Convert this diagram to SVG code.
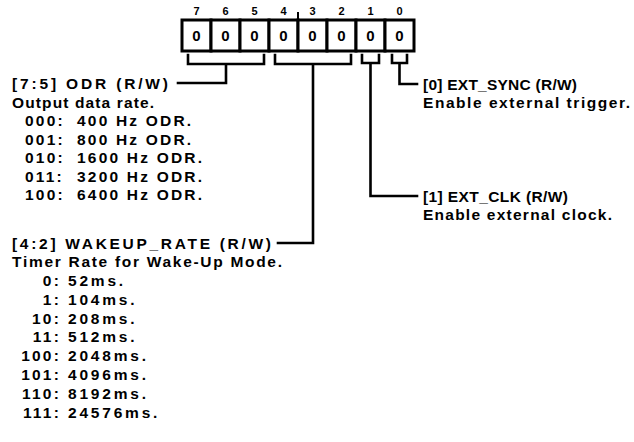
<svg xmlns="http://www.w3.org/2000/svg" width="634" height="442" viewBox="0 0 634 442">
<style>
text{font-family:"Liberation Sans",Arial,sans-serif;font-weight:bold;fill:#000}
.t{font-size:15.5px}
.l{font-size:15.5px;letter-spacing:2.2px}
.v{font-size:15.5px;letter-spacing:2.8px}
.k{font-size:15.5px;letter-spacing:2.2px;text-anchor:end}
.bn{font-size:11px;text-anchor:middle}
.bv{font-size:15px;text-anchor:middle}
.cell{fill:#fff;stroke:#000;stroke-width:3}
.ln{fill:none;stroke:#000;stroke-width:2.6;stroke-linecap:square;stroke-linejoin:miter}
</style>
<rect width="634" height="442" fill="#fff"/>
<g id="register">
<rect class="cell" x="182" y="20" width="29" height="31"/>
<rect class="cell" x="211" y="20" width="29" height="31"/>
<rect class="cell" x="240" y="20" width="29" height="31"/>
<rect class="cell" x="269" y="20" width="29" height="31"/>
<rect class="cell" x="298" y="20" width="29" height="31"/>
<rect class="cell" x="327" y="20" width="29" height="31"/>
<rect class="cell" x="356" y="20" width="29" height="31"/>
<rect class="cell" x="385" y="20" width="29" height="31"/>
<line x1="298" y1="12" x2="298" y2="20" stroke="#000" stroke-width="2"/>
<text class="bn" x="196.5" y="15">7</text>
<text class="bn" x="225.5" y="15">6</text>
<text class="bn" x="254.5" y="15">5</text>
<text class="bn" x="283.5" y="15">4</text>
<text class="bn" x="312.5" y="15">3</text>
<text class="bn" x="341.5" y="15">2</text>
<text class="bn" x="370.5" y="15">1</text>
<text class="bn" x="399.5" y="15">0</text>
<text class="bv" x="196.5" y="41">0</text>
<text class="bv" x="225.5" y="41">0</text>
<text class="bv" x="254.5" y="41">0</text>
<text class="bv" x="283.5" y="41">0</text>
<text class="bv" x="312.5" y="41">0</text>
<text class="bv" x="341.5" y="41">0</text>
<text class="bv" x="370.5" y="41">0</text>
<text class="bv" x="399.5" y="41">0</text>
</g>
<g id="connectors">
<path class="ln" d="M188,55 V64 H264 V55 M226,64 V83 H178"/>
<path class="ln" d="M275,55 V64 H351 V55 M313,64 V243 H278"/>
<path class="ln" d="M362,55 V63 H379 V55 M370.5,63 V196 H417"/>
<path class="ln" d="M392,55 V63 H407 V55 M399.5,63 V84 H417"/>
</g>
<g id="odr">
<text class="t" x="12" y="88.5" textLength="156" lengthAdjust="spacing">[7:5] ODR (R/W)</text>
<text class="t" x="12" y="107.5" textLength="142" lengthAdjust="spacing">Output data rate.</text>
<text class="l" x="25" y="126">000:</text><text class="l" x="77" y="126">400 Hz ODR.</text>
<text class="l" x="25" y="144.5">001:</text><text class="l" x="77" y="144.5">800 Hz ODR.</text>
<text class="l" x="25" y="163">010:</text><text class="l" x="77" y="163">1600 Hz ODR.</text>
<text class="l" x="25" y="181.5">011:</text><text class="l" x="77" y="181.5">3200 Hz ODR.</text>
<text class="l" x="25" y="200">100:</text><text class="l" x="77" y="200">6400 Hz ODR.</text>
</g>
<g id="wakeup_rate">
<text class="t" x="12" y="248.5" textLength="259" lengthAdjust="spacing">[4:2] WAKEUP_RATE (R/W)</text>
<text class="t" x="12" y="267" textLength="270" lengthAdjust="spacing">Timer Rate for Wake-Up Mode.</text>
<text class="k" x="61" y="286">0:</text><text class="v" x="68" y="286">52ms.</text>
<text class="k" x="61" y="304.8">1:</text><text class="v" x="68" y="304.8">104ms.</text>
<text class="k" x="61" y="323.6">10:</text><text class="v" x="68" y="323.6">208ms.</text>
<text class="k" x="61" y="342.4">11:</text><text class="v" x="68" y="342.4">512ms.</text>
<text class="k" x="61" y="361.2">100:</text><text class="v" x="68" y="361.2">2048ms.</text>
<text class="k" x="61" y="380">101:</text><text class="v" x="68" y="380">4096ms.</text>
<text class="k" x="61" y="398.8">110:</text><text class="v" x="68" y="398.8">8192ms.</text>
<text class="k" x="61" y="417.6">111:</text><text class="v" x="68" y="417.6">24576ms.</text>
</g>
<g id="ext_sync">
<text class="t" x="423" y="89.5" textLength="154" lengthAdjust="spacing">[0] EXT_SYNC (R/W)</text>
<text class="t" x="423" y="108" textLength="207" lengthAdjust="spacing">Enable external trigger.</text>
</g>
<g id="ext_clk">
<text class="t" x="423" y="201.5" textLength="145" lengthAdjust="spacing">[1] EXT_CLK (R/W)</text>
<text class="t" x="423" y="220" textLength="189" lengthAdjust="spacing">Enable external clock.</text>
</g>
</svg>
